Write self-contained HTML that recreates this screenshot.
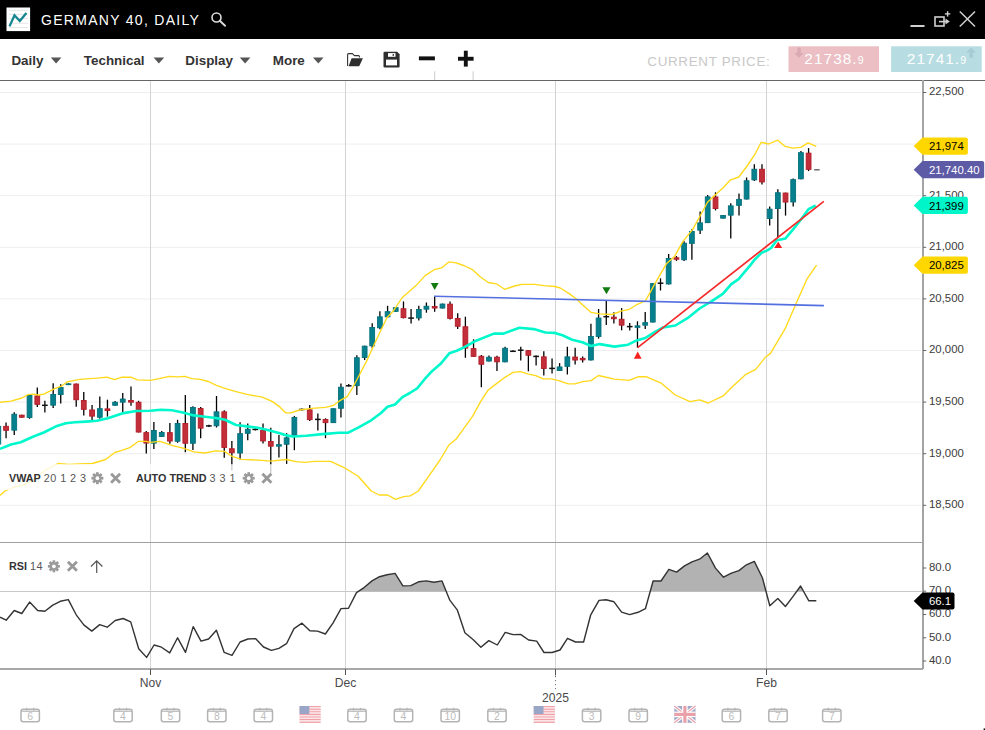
<!DOCTYPE html>
<html><head><meta charset="utf-8"><title>GERMANY 40, DAILY</title>
<style>
html,body{margin:0;padding:0;background:#fff;}
body{width:985px;height:730px;overflow:hidden;position:relative;font-family:"Liberation Sans",Arial,sans-serif;}
svg{position:absolute;left:0;top:0;display:block;}
.tb{position:absolute;top:0;left:0;width:985px;height:39px;background:#000;}
</style></head><body>
<svg width="985" height="730" viewBox="0 0 985 730">

<rect x="0" y="0" width="985" height="39" fill="#000"/>
<rect x="6.5" y="7.5" width="23.6" height="23.6" fill="#fff"/>
<line x1="8.9" y1="10.3" x2="27.8" y2="10.3" stroke="#e6e6e6" stroke-width="1"/>
<line x1="8.9" y1="14.5" x2="27.8" y2="14.5" stroke="#e6e6e6" stroke-width="1"/>
<line x1="8.9" y1="18.6" x2="27.8" y2="18.6" stroke="#e6e6e6" stroke-width="1"/>
<line x1="8.9" y1="23.3" x2="27.8" y2="23.3" stroke="#e6e6e6" stroke-width="1"/>
<line x1="8.9" y1="27.5" x2="27.8" y2="27.5" stroke="#e6e6e6" stroke-width="1"/>
<polyline points="9.5,26.4 14.5,15.3 19.8,21 26.4,13" fill="none" stroke="#168691" stroke-width="2.3" stroke-linejoin="miter"/>
<text x="41" y="25" fill="#fff" font-family="Liberation Sans, Arial, sans-serif" font-size="14" letter-spacing="1.29">GERMANY 40, DAILY</text>
<circle cx="216.5" cy="17.5" r="4.5" fill="none" stroke="#ddd" stroke-width="1.6"/>
<line x1="219.8" y1="20.8" x2="225.1" y2="25.7" stroke="#ddd" stroke-width="1.9" stroke-linecap="round"/>
<rect x="910.5" y="25" width="14" height="2" fill="#d0d0d0"/>
<rect x="935" y="17" width="9" height="9" fill="none" stroke="#d0d0d0" stroke-width="1.6"/>
<line x1="939" y1="21.6" x2="946" y2="21.6" stroke="#d0d0d0" stroke-width="1.6"/>
<polygon points="945.5,18.6 949.8,21.6 945.5,24.6" fill="#d0d0d0"/>
<line x1="947.6" y1="11.2" x2="947.6" y2="16.6" stroke="#d0d0d0" stroke-width="1.4"/>
<line x1="944.9" y1="13.9" x2="950.3" y2="13.9" stroke="#d0d0d0" stroke-width="1.4"/>
<line x1="959.8" y1="11.5" x2="975" y2="26.5" stroke="#d0d0d0" stroke-width="1.5"/>
<line x1="975" y1="11.5" x2="959.8" y2="26.5" stroke="#d0d0d0" stroke-width="1.5"/>
<text x="11.4" y="64.6" fill="#333" font-family="Liberation Sans, Arial, sans-serif" font-weight="bold" font-size="13.4">Daily</text>
<polygon points="50.8,57.6 61.4,57.6 56.099999999999994,63.4" fill="#555"/>
<text x="83.8" y="64.6" fill="#333" font-family="Liberation Sans, Arial, sans-serif" font-weight="bold" font-size="13.4">Technical</text>
<polygon points="153.6,57.6 164.2,57.6 158.9,63.4" fill="#555"/>
<text x="185.3" y="64.6" fill="#333" font-family="Liberation Sans, Arial, sans-serif" font-weight="bold" font-size="13.4">Display</text>
<polygon points="239.8,57.6 250.4,57.6 245.10000000000002,63.4" fill="#555"/>
<text x="272.8" y="64.6" fill="#333" font-family="Liberation Sans, Arial, sans-serif" font-weight="bold" font-size="13.4">More</text>
<polygon points="313.0,57.6 323.6,57.6 318.3,63.4" fill="#555"/>
<path d="M347.6,66 V54.6 Q347.6,53.6 348.6,53.6 H352.4 L354.4,55.6 H358.6 Q359.4,55.6 359.4,56.6 V57.6" fill="none" stroke="#333" stroke-width="1.1" stroke-linejoin="round"/>
<path d="M351.6,58.2 H362.9 L359.2,66.3 H348.6 Z" fill="#2e2e2e"/>
<path d="M384.6,51.8 H397.2 L399.6,54.2 V66.3 Q399.6,67.5 398.4,67.5 H384.7 Q383.5,67.5 383.5,66.3 V53 Q383.5,51.8 384.6,51.8 Z" fill="#2e2e2e"/>
<rect x="386" y="59.6" width="11" height="5.8" fill="#fff"/>
<rect x="388" y="53.1" width="7.5" height="3.7" fill="#fff"/>
<rect x="392.6" y="54" width="1.3" height="1.9" fill="#2e2e2e"/>
<rect x="418.9" y="56.4" width="16" height="3.9" fill="#111"/>
<rect x="458" y="56.8" width="15.6" height="3.9" fill="#111"/>
<rect x="463.85" y="50.7" width="3.9" height="15.9" fill="#111"/>
<line x1="434.7" y1="71.3" x2="434.7" y2="80" stroke="#ccc" stroke-width="1"/>
<line x1="473.1" y1="71.3" x2="473.1" y2="80" stroke="#ccc" stroke-width="1"/>
<text x="647.3" y="66" fill="#c8c8c8" font-family="Liberation Sans, Arial, sans-serif" font-size="13.4" letter-spacing="0.68">CURRENT PRICE:</text>
<rect x="788.5" y="46.3" width="90.5" height="25.7" fill="#ebbfc4"/>
<path d="M797.3,47.6 h3.4 v5.3 h3.1 l-4.8,4.8 l-4.8,-4.8 h3.1 z" fill="#dba9b1"/>
<text x="804.3" y="63.8" fill="#fff" font-family="Liberation Sans, Arial, sans-serif" font-size="15.4" letter-spacing="1.05">21738.<tspan font-size="10.6">9</tspan></text>
<rect x="891.1" y="46.3" width="90.6" height="25.7" fill="#b7dde2"/>
<path d="M969.4,57.7 h3.4 v-5.3 h3.1 l-4.8,-4.8 l-4.8,4.8 h3.1 z" fill="#a6ccd3"/>
<text x="906.8" y="63.8" fill="#fff" font-family="Liberation Sans, Arial, sans-serif" font-size="15.4" letter-spacing="1.05">21741.<tspan font-size="10.6">9</tspan></text>
<rect x="0" y="80" width="985" height="1" fill="#666"/>
<line x1="0" y1="505.3" x2="921" y2="505.3" stroke="#eeeeee" stroke-width="1"/>
<line x1="0" y1="453.7" x2="921" y2="453.7" stroke="#eeeeee" stroke-width="1"/>
<line x1="0" y1="402.1" x2="921" y2="402.1" stroke="#eeeeee" stroke-width="1"/>
<line x1="0" y1="350.5" x2="921" y2="350.5" stroke="#eeeeee" stroke-width="1"/>
<line x1="0" y1="298.9" x2="921" y2="298.9" stroke="#eeeeee" stroke-width="1"/>
<line x1="0" y1="247.3" x2="921" y2="247.3" stroke="#eeeeee" stroke-width="1"/>
<line x1="0" y1="195.7" x2="921" y2="195.7" stroke="#eeeeee" stroke-width="1"/>
<line x1="0" y1="144.1" x2="921" y2="144.1" stroke="#eeeeee" stroke-width="1"/>
<line x1="0" y1="92.5" x2="921" y2="92.5" stroke="#eeeeee" stroke-width="1"/>
<line x1="150.5" y1="81" x2="150.5" y2="668" stroke="#d3d3d3" stroke-width="1"/>
<line x1="345.5" y1="81" x2="345.5" y2="668" stroke="#d3d3d3" stroke-width="1"/>
<line x1="555.5" y1="81" x2="555.5" y2="668" stroke="#d3d3d3" stroke-width="1"/>
<line x1="766.5" y1="81" x2="766.5" y2="668" stroke="#d3d3d3" stroke-width="1"/>
<line x1="0" y1="591.5" x2="922" y2="591.5" stroke="#c8c8c8" stroke-width="1"/>
<polygon points="358.1,591.5 364.4,587.3 372.0,580.9 379.5,576.7 387.0,574.7 395.1,573.4 402.9,585.9 410.8,585.6 418.5,581.8 426.4,580.9 433.9,582.3 442.0,580.9 446.3,591.5" fill="#b2b2b2"/>
<polygon points="650.2,591.5 653.1,581.0 661.0,581.0 668.9,569.3 676.6,572.1 684.5,565.9 692.0,561.8 699.5,559.2 707.4,553.0 715.5,568.1 723.5,577.2 731.4,573.1 738.9,570.6 746.4,564.8 754.3,561.4 762.4,577.7 766.0,591.5" fill="#b2b2b2"/>
<polygon points="796.6,591.5 800.6,586.0 803.6,591.5" fill="#b2b2b2"/>
<polyline points="0.0,617.2 6.2,620.2 14.2,610.5 21.8,613.5 29.6,602.1 37.7,610.5 44.9,611.2 52.8,605.1 60.3,601.3 68.3,599.6 76.2,614.8 83.8,624.9 91.8,631.1 99.7,624.6 107.2,627.2 115.2,620.5 123.1,618.5 130.7,621.9 138.7,648.7 146.6,657.4 154.1,645.0 161.5,647.2 169.7,652.9 177.6,637.8 185.5,652.4 193.2,626.6 201.0,641.1 208.6,639.0 216.4,630.3 224.2,652.4 232.0,655.4 240.1,642.0 247.9,639.0 255.5,638.6 263.5,647.0 271.4,650.4 278.9,648.3 286.5,643.7 294.0,628.6 302.0,623.2 309.9,630.8 317.5,631.1 325.4,634.0 333.1,622.8 341.0,608.6 348.5,608.2 356.5,592.6 364.4,587.3 372.0,580.9 379.5,576.7 387.0,574.7 395.1,573.4 402.9,585.9 410.8,585.6 418.5,581.8 426.4,580.9 433.9,582.3 442.0,580.9 449.8,600.2 457.4,610.2 464.9,632.8 473.0,639.5 480.9,647.3 488.8,640.6 497.3,645.0 505.2,632.4 513.2,634.6 520.6,634.4 528.6,640.0 536.7,641.1 544.0,652.5 552.1,652.5 560.0,650.0 567.5,638.3 575.5,642.0 583.6,642.0 590.6,615.2 599.0,600.4 606.0,599.8 614.0,601.8 621.6,612.2 629.6,614.6 638.1,612.3 645.4,608.7 653.1,581.0 661.0,581.0 668.9,569.3 676.6,572.1 684.5,565.9 692.0,561.8 699.5,559.2 707.4,553.0 715.5,568.1 723.5,577.2 731.4,573.1 738.9,570.6 746.4,564.8 754.3,561.4 762.4,577.7 769.8,605.7 777.8,598.4 785.4,606.5 793.1,596.3 800.6,586.0 808.7,600.7 816.3,600.7" fill="none" stroke="#333" stroke-width="1.4" stroke-linejoin="round"/>
<line x1="-1.69" y1="424.5" x2="-1.69" y2="446.0" stroke="#000" stroke-width="1.3"/>
<rect x="-4.09" y="426.35" width="4.80" height="17.70" fill="#06808c" stroke="#04707c" stroke-width="0.9"/>
<line x1="6.05" y1="422.4" x2="6.05" y2="438.2" stroke="#000" stroke-width="1.3"/>
<rect x="3.65" y="426.35" width="4.80" height="4.00" fill="#c22e3a" stroke="#b31b27" stroke-width="0.9"/>
<line x1="14.25" y1="412.2" x2="14.25" y2="434.9" stroke="#000" stroke-width="1.3"/>
<rect x="11.85" y="414.25" width="4.80" height="15.90" fill="#06808c" stroke="#04707c" stroke-width="0.9"/>
<line x1="21.79" y1="414.7" x2="21.79" y2="417.7" stroke="#000" stroke-width="1.3"/>
<rect x="19.39" y="415.15" width="4.80" height="2.10" fill="#c22e3a" stroke="#b31b27" stroke-width="0.9"/>
<line x1="29.54" y1="394.7" x2="29.54" y2="418.8" stroke="#000" stroke-width="1.3"/>
<rect x="27.14" y="395.45" width="4.80" height="22.10" fill="#06808c" stroke="#04707c" stroke-width="0.9"/>
<line x1="37.29" y1="387.5" x2="37.29" y2="407.0" stroke="#000" stroke-width="1.3"/>
<rect x="34.89" y="395.95" width="4.80" height="8.40" fill="#c22e3a" stroke="#b31b27" stroke-width="0.9"/>
<line x1="44.88" y1="400.7" x2="44.88" y2="412.5" stroke="#000" stroke-width="1.3"/>
<rect x="42.03" y="404.55" width="5.7" height="1.5" fill="#111"/>
<line x1="53.18" y1="383.2" x2="53.18" y2="408.1" stroke="#000" stroke-width="1.3"/>
<rect x="50.78" y="394.55" width="4.80" height="10.60" fill="#06808c" stroke="#04707c" stroke-width="0.9"/>
<line x1="60.73" y1="384.2" x2="60.73" y2="403.4" stroke="#000" stroke-width="1.3"/>
<rect x="58.33" y="387.45" width="4.80" height="7.10" fill="#06808c" stroke="#04707c" stroke-width="0.9"/>
<line x1="68.47" y1="383.4" x2="68.47" y2="385.1" stroke="#000" stroke-width="1.3"/>
<rect x="66.07" y="383.85" width="4.80" height="0.80" fill="#06808c" stroke="#04707c" stroke-width="0.9"/>
<line x1="76.22" y1="383.6" x2="76.22" y2="406.8" stroke="#000" stroke-width="1.3"/>
<rect x="73.82" y="384.05" width="4.80" height="15.70" fill="#c22e3a" stroke="#b31b27" stroke-width="0.9"/>
<line x1="83.77" y1="392.0" x2="83.77" y2="415.5" stroke="#000" stroke-width="1.3"/>
<rect x="81.37" y="400.45" width="4.80" height="8.90" fill="#c22e3a" stroke="#b31b27" stroke-width="0.9"/>
<line x1="92.06" y1="405.1" x2="92.06" y2="419.9" stroke="#000" stroke-width="1.3"/>
<rect x="89.66" y="409.95" width="4.80" height="6.20" fill="#c22e3a" stroke="#b31b27" stroke-width="0.9"/>
<line x1="99.81" y1="396.4" x2="99.81" y2="418.8" stroke="#000" stroke-width="1.3"/>
<rect x="97.41" y="408.65" width="4.80" height="8.60" fill="#06808c" stroke="#04707c" stroke-width="0.9"/>
<line x1="107.45" y1="399.7" x2="107.45" y2="416.6" stroke="#000" stroke-width="1.3"/>
<rect x="105.05" y="408.85" width="4.80" height="1.70" fill="#c22e3a" stroke="#b31b27" stroke-width="0.9"/>
<line x1="115.10" y1="401.0" x2="115.10" y2="405.7" stroke="#000" stroke-width="1.3"/>
<rect x="112.70" y="402.25" width="4.80" height="3.00" fill="#06808c" stroke="#04707c" stroke-width="0.9"/>
<line x1="122.75" y1="393.1" x2="122.75" y2="412.8" stroke="#000" stroke-width="1.3"/>
<rect x="120.35" y="399.05" width="4.80" height="3.10" fill="#06808c" stroke="#04707c" stroke-width="0.9"/>
<line x1="130.99" y1="386.5" x2="130.99" y2="405.7" stroke="#000" stroke-width="1.3"/>
<rect x="128.59" y="400.45" width="4.80" height="1.70" fill="#c22e3a" stroke="#b31b27" stroke-width="0.9"/>
<line x1="138.59" y1="400.8" x2="138.59" y2="432.5" stroke="#000" stroke-width="1.3"/>
<rect x="136.19" y="402.25" width="4.80" height="29.80" fill="#c22e3a" stroke="#b31b27" stroke-width="0.9"/>
<line x1="146.29" y1="430.9" x2="146.29" y2="453.4" stroke="#000" stroke-width="1.3"/>
<rect x="143.89" y="432.65" width="4.80" height="10.40" fill="#c22e3a" stroke="#b31b27" stroke-width="0.9"/>
<line x1="153.88" y1="422.0" x2="153.88" y2="449.0" stroke="#000" stroke-width="1.3"/>
<rect x="151.48" y="430.45" width="4.80" height="12.70" fill="#06808c" stroke="#04707c" stroke-width="0.9"/>
<line x1="161.73" y1="431.1" x2="161.73" y2="436.9" stroke="#000" stroke-width="1.3"/>
<rect x="159.33" y="432.45" width="4.80" height="4.00" fill="#06808c" stroke="#04707c" stroke-width="0.9"/>
<line x1="169.88" y1="422.9" x2="169.88" y2="443.7" stroke="#000" stroke-width="1.3"/>
<rect x="167.48" y="432.65" width="4.80" height="8.40" fill="#c22e3a" stroke="#b31b27" stroke-width="0.9"/>
<line x1="177.57" y1="419.8" x2="177.57" y2="442.8" stroke="#000" stroke-width="1.3"/>
<rect x="175.17" y="423.55" width="4.80" height="17.70" fill="#06808c" stroke="#04707c" stroke-width="0.9"/>
<line x1="185.32" y1="394.9" x2="185.32" y2="452.2" stroke="#000" stroke-width="1.3"/>
<rect x="182.92" y="423.55" width="4.80" height="19.70" fill="#c22e3a" stroke="#b31b27" stroke-width="0.9"/>
<line x1="192.92" y1="406.2" x2="192.92" y2="450.0" stroke="#000" stroke-width="1.3"/>
<rect x="190.52" y="407.45" width="4.80" height="35.80" fill="#06808c" stroke="#04707c" stroke-width="0.9"/>
<line x1="200.66" y1="407.0" x2="200.66" y2="438.2" stroke="#000" stroke-width="1.3"/>
<rect x="198.26" y="408.55" width="4.80" height="19.60" fill="#c22e3a" stroke="#b31b27" stroke-width="0.9"/>
<line x1="208.86" y1="424.8" x2="208.86" y2="427.0" stroke="#000" stroke-width="1.3"/>
<rect x="206.01" y="425.15" width="5.7" height="1.5" fill="#111"/>
<line x1="216.51" y1="396.0" x2="216.51" y2="427.5" stroke="#000" stroke-width="1.3"/>
<rect x="214.11" y="411.85" width="4.80" height="13.90" fill="#06808c" stroke="#04707c" stroke-width="0.9"/>
<line x1="224.25" y1="410.3" x2="224.25" y2="457.7" stroke="#000" stroke-width="1.3"/>
<rect x="221.85" y="411.85" width="4.80" height="35.60" fill="#c22e3a" stroke="#b31b27" stroke-width="0.9"/>
<line x1="231.85" y1="440.9" x2="231.85" y2="470.5" stroke="#000" stroke-width="1.3"/>
<rect x="229.45" y="448.75" width="4.80" height="4.00" fill="#c22e3a" stroke="#b31b27" stroke-width="0.9"/>
<line x1="240.09" y1="422.3" x2="240.09" y2="459.5" stroke="#000" stroke-width="1.3"/>
<rect x="237.69" y="433.65" width="4.80" height="19.40" fill="#06808c" stroke="#04707c" stroke-width="0.9"/>
<line x1="247.74" y1="423.4" x2="247.74" y2="440.3" stroke="#000" stroke-width="1.3"/>
<rect x="245.34" y="429.25" width="4.80" height="4.10" fill="#06808c" stroke="#04707c" stroke-width="0.9"/>
<line x1="255.29" y1="428.3" x2="255.29" y2="430.5" stroke="#000" stroke-width="1.3"/>
<rect x="252.44" y="428.65" width="5.7" height="1.5" fill="#111"/>
<line x1="263.03" y1="423.4" x2="263.03" y2="443.6" stroke="#000" stroke-width="1.3"/>
<rect x="260.63" y="430.35" width="4.80" height="10.60" fill="#c22e3a" stroke="#b31b27" stroke-width="0.9"/>
<line x1="270.78" y1="427.7" x2="270.78" y2="473.3" stroke="#000" stroke-width="1.3"/>
<rect x="268.38" y="441.55" width="4.80" height="4.60" fill="#c22e3a" stroke="#b31b27" stroke-width="0.9"/>
<line x1="278.93" y1="434.9" x2="278.93" y2="457.5" stroke="#000" stroke-width="1.3"/>
<rect x="276.53" y="444.65" width="4.80" height="1.50" fill="#06808c" stroke="#04707c" stroke-width="0.9"/>
<line x1="286.62" y1="433.2" x2="286.62" y2="463.9" stroke="#000" stroke-width="1.3"/>
<rect x="284.22" y="437.85" width="4.80" height="6.40" fill="#06808c" stroke="#04707c" stroke-width="0.9"/>
<line x1="294.37" y1="415.9" x2="294.37" y2="450.2" stroke="#000" stroke-width="1.3"/>
<rect x="291.97" y="417.45" width="4.80" height="17.70" fill="#06808c" stroke="#04707c" stroke-width="0.9"/>
<line x1="301.72" y1="408.5" x2="301.72" y2="410.5" stroke="#000" stroke-width="1.3"/>
<rect x="298.87" y="408.75" width="5.7" height="1.5" fill="#111"/>
<line x1="309.71" y1="405.0" x2="309.71" y2="421.0" stroke="#000" stroke-width="1.3"/>
<rect x="307.31" y="409.85" width="4.80" height="9.80" fill="#c22e3a" stroke="#b31b27" stroke-width="0.9"/>
<line x1="317.86" y1="413.5" x2="317.86" y2="430.6" stroke="#000" stroke-width="1.3"/>
<rect x="315.01" y="418.65" width="5.7" height="1.5" fill="#111"/>
<line x1="325.51" y1="418.3" x2="325.51" y2="438.2" stroke="#000" stroke-width="1.3"/>
<rect x="323.11" y="419.45" width="4.80" height="3.20" fill="#c22e3a" stroke="#b31b27" stroke-width="0.9"/>
<line x1="333.35" y1="408.3" x2="333.35" y2="423.1" stroke="#000" stroke-width="1.3"/>
<rect x="330.95" y="408.75" width="4.80" height="13.90" fill="#06808c" stroke="#04707c" stroke-width="0.9"/>
<line x1="340.95" y1="383.4" x2="340.95" y2="417.6" stroke="#000" stroke-width="1.3"/>
<rect x="338.55" y="387.25" width="4.80" height="21.00" fill="#06808c" stroke="#04707c" stroke-width="0.9"/>
<line x1="348.70" y1="384.0" x2="348.70" y2="386.5" stroke="#000" stroke-width="1.3"/>
<rect x="345.85" y="385.05" width="5.7" height="1.5" fill="#111"/>
<line x1="356.84" y1="355.3" x2="356.84" y2="395.0" stroke="#000" stroke-width="1.3"/>
<rect x="354.44" y="357.75" width="4.80" height="27.90" fill="#06808c" stroke="#04707c" stroke-width="0.9"/>
<line x1="364.64" y1="345.7" x2="364.64" y2="360.0" stroke="#000" stroke-width="1.3"/>
<rect x="362.24" y="346.15" width="4.80" height="11.40" fill="#06808c" stroke="#04707c" stroke-width="0.9"/>
<line x1="372.21" y1="323.3" x2="372.21" y2="348.0" stroke="#000" stroke-width="1.3"/>
<rect x="369.81" y="327.55" width="4.80" height="18.30" fill="#06808c" stroke="#04707c" stroke-width="0.9"/>
<line x1="379.88" y1="311.2" x2="379.88" y2="329.3" stroke="#000" stroke-width="1.3"/>
<rect x="377.48" y="316.85" width="4.80" height="10.90" fill="#06808c" stroke="#04707c" stroke-width="0.9"/>
<line x1="387.58" y1="305.8" x2="387.58" y2="317.8" stroke="#000" stroke-width="1.3"/>
<rect x="385.18" y="311.65" width="4.80" height="5.20" fill="#06808c" stroke="#04707c" stroke-width="0.9"/>
<line x1="395.73" y1="307.2" x2="395.73" y2="311.8" stroke="#000" stroke-width="1.3"/>
<rect x="393.32" y="307.65" width="4.80" height="3.70" fill="#06808c" stroke="#04707c" stroke-width="0.9"/>
<line x1="403.47" y1="301.4" x2="403.47" y2="318.4" stroke="#000" stroke-width="1.3"/>
<rect x="401.07" y="308.75" width="4.80" height="8.90" fill="#c22e3a" stroke="#b31b27" stroke-width="0.9"/>
<line x1="411.07" y1="309.0" x2="411.07" y2="323.6" stroke="#000" stroke-width="1.3"/>
<rect x="408.22" y="317.35" width="5.7" height="1.5" fill="#111"/>
<line x1="418.81" y1="305.8" x2="418.81" y2="320.5" stroke="#000" stroke-width="1.3"/>
<rect x="416.41" y="309.45" width="4.80" height="8.50" fill="#06808c" stroke="#04707c" stroke-width="0.9"/>
<line x1="426.41" y1="302.5" x2="426.41" y2="312.7" stroke="#000" stroke-width="1.3"/>
<rect x="424.01" y="306.25" width="4.80" height="2.90" fill="#06808c" stroke="#04707c" stroke-width="0.9"/>
<line x1="434.66" y1="296.4" x2="434.66" y2="311.8" stroke="#000" stroke-width="1.3"/>
<rect x="432.26" y="306.55" width="4.80" height="1.50" fill="#c22e3a" stroke="#b31b27" stroke-width="0.9"/>
<line x1="442.45" y1="303.6" x2="442.45" y2="308.5" stroke="#000" stroke-width="1.3"/>
<rect x="440.05" y="304.05" width="4.80" height="4.00" fill="#06808c" stroke="#04707c" stroke-width="0.9"/>
<line x1="450.05" y1="301.6" x2="450.05" y2="319.5" stroke="#000" stroke-width="1.3"/>
<rect x="447.65" y="304.15" width="4.80" height="14.20" fill="#c22e3a" stroke="#b31b27" stroke-width="0.9"/>
<line x1="457.70" y1="313.3" x2="457.70" y2="329.0" stroke="#000" stroke-width="1.3"/>
<rect x="455.30" y="318.55" width="4.80" height="7.70" fill="#c22e3a" stroke="#b31b27" stroke-width="0.9"/>
<line x1="465.39" y1="316.7" x2="465.39" y2="357.8" stroke="#000" stroke-width="1.3"/>
<rect x="462.99" y="326.75" width="4.80" height="21.40" fill="#c22e3a" stroke="#b31b27" stroke-width="0.9"/>
<line x1="473.54" y1="339.3" x2="473.54" y2="357.0" stroke="#000" stroke-width="1.3"/>
<rect x="471.14" y="348.65" width="4.80" height="7.70" fill="#c22e3a" stroke="#b31b27" stroke-width="0.9"/>
<line x1="481.34" y1="355.0" x2="481.34" y2="387.3" stroke="#000" stroke-width="1.3"/>
<rect x="478.94" y="356.25" width="4.80" height="8.00" fill="#c22e3a" stroke="#b31b27" stroke-width="0.9"/>
<line x1="488.98" y1="355.5" x2="488.98" y2="361.5" stroke="#000" stroke-width="1.3"/>
<rect x="486.58" y="357.25" width="4.80" height="3.80" fill="#06808c" stroke="#04707c" stroke-width="0.9"/>
<line x1="496.98" y1="355.8" x2="496.98" y2="371.1" stroke="#000" stroke-width="1.3"/>
<rect x="494.58" y="357.15" width="4.80" height="4.70" fill="#c22e3a" stroke="#b31b27" stroke-width="0.9"/>
<line x1="505.03" y1="346.8" x2="505.03" y2="362.3" stroke="#000" stroke-width="1.3"/>
<rect x="502.63" y="348.25" width="4.80" height="13.60" fill="#06808c" stroke="#04707c" stroke-width="0.9"/>
<line x1="512.95" y1="350.2" x2="512.95" y2="351.8" stroke="#000" stroke-width="1.3"/>
<rect x="510.10" y="350.55" width="5.7" height="1.5" fill="#111"/>
<line x1="520.77" y1="346.8" x2="520.77" y2="360.5" stroke="#000" stroke-width="1.3"/>
<rect x="517.92" y="349.45" width="5.7" height="1.5" fill="#111"/>
<line x1="528.37" y1="350.2" x2="528.37" y2="371.3" stroke="#000" stroke-width="1.3"/>
<rect x="525.97" y="350.65" width="4.80" height="4.60" fill="#c22e3a" stroke="#b31b27" stroke-width="0.9"/>
<line x1="536.11" y1="355.5" x2="536.11" y2="365.5" stroke="#000" stroke-width="1.3"/>
<rect x="533.26" y="355.65" width="5.7" height="1.5" fill="#111"/>
<line x1="543.81" y1="351.2" x2="543.81" y2="375.4" stroke="#000" stroke-width="1.3"/>
<rect x="541.41" y="356.85" width="4.80" height="11.60" fill="#c22e3a" stroke="#b31b27" stroke-width="0.9"/>
<line x1="552.06" y1="358.4" x2="552.06" y2="373.5" stroke="#000" stroke-width="1.3"/>
<rect x="549.21" y="367.65" width="5.7" height="1.5" fill="#111"/>
<line x1="559.60" y1="363.1" x2="559.60" y2="371.0" stroke="#000" stroke-width="1.3"/>
<rect x="557.20" y="366.95" width="4.80" height="3.60" fill="#06808c" stroke="#04707c" stroke-width="0.9"/>
<line x1="567.35" y1="346.8" x2="567.35" y2="374.6" stroke="#000" stroke-width="1.3"/>
<rect x="564.95" y="356.85" width="4.80" height="9.50" fill="#06808c" stroke="#04707c" stroke-width="0.9"/>
<line x1="575.14" y1="347.8" x2="575.14" y2="364.6" stroke="#000" stroke-width="1.3"/>
<rect x="572.74" y="357.05" width="4.80" height="3.00" fill="#c22e3a" stroke="#b31b27" stroke-width="0.9"/>
<line x1="582.67" y1="356.4" x2="582.67" y2="362.4" stroke="#000" stroke-width="1.3"/>
<rect x="580.27" y="358.35" width="4.80" height="1.50" fill="#c22e3a" stroke="#b31b27" stroke-width="0.9"/>
<line x1="590.94" y1="323.8" x2="590.94" y2="360.4" stroke="#000" stroke-width="1.3"/>
<rect x="588.54" y="336.55" width="4.80" height="23.40" fill="#06808c" stroke="#04707c" stroke-width="0.9"/>
<line x1="598.58" y1="309.0" x2="598.58" y2="338.6" stroke="#000" stroke-width="1.3"/>
<rect x="596.18" y="318.05" width="4.80" height="18.50" fill="#06808c" stroke="#04707c" stroke-width="0.9"/>
<line x1="606.28" y1="301.0" x2="606.28" y2="325.0" stroke="#000" stroke-width="1.3"/>
<rect x="603.43" y="315.95" width="5.7" height="1.5" fill="#111"/>
<line x1="613.88" y1="312.3" x2="613.88" y2="323.4" stroke="#000" stroke-width="1.3"/>
<rect x="611.48" y="317.15" width="4.80" height="1.60" fill="#c22e3a" stroke="#b31b27" stroke-width="0.9"/>
<line x1="621.62" y1="308.1" x2="621.62" y2="330.3" stroke="#000" stroke-width="1.3"/>
<rect x="619.22" y="319.25" width="4.80" height="5.90" fill="#c22e3a" stroke="#b31b27" stroke-width="0.9"/>
<line x1="629.72" y1="322.9" x2="629.72" y2="330.6" stroke="#000" stroke-width="1.3"/>
<rect x="626.87" y="325.85" width="5.7" height="1.5" fill="#111"/>
<line x1="637.47" y1="321.3" x2="637.47" y2="347.6" stroke="#000" stroke-width="1.3"/>
<rect x="635.07" y="325.85" width="4.80" height="1.50" fill="#06808c" stroke="#04707c" stroke-width="0.9"/>
<line x1="645.21" y1="312.1" x2="645.21" y2="329.1" stroke="#000" stroke-width="1.3"/>
<rect x="642.81" y="322.65" width="4.80" height="2.50" fill="#06808c" stroke="#04707c" stroke-width="0.9"/>
<line x1="652.78" y1="283.2" x2="652.78" y2="322.5" stroke="#000" stroke-width="1.3"/>
<rect x="650.38" y="283.65" width="4.80" height="38.40" fill="#06808c" stroke="#04707c" stroke-width="0.9"/>
<line x1="660.51" y1="278.3" x2="660.51" y2="290.5" stroke="#000" stroke-width="1.3"/>
<rect x="657.66" y="282.45" width="5.7" height="1.5" fill="#111"/>
<line x1="668.65" y1="254.0" x2="668.65" y2="284.4" stroke="#000" stroke-width="1.3"/>
<rect x="666.25" y="258.55" width="4.80" height="25.40" fill="#06808c" stroke="#04707c" stroke-width="0.9"/>
<line x1="676.45" y1="256.0" x2="676.45" y2="260.9" stroke="#000" stroke-width="1.3"/>
<rect x="674.05" y="257.75" width="4.80" height="1.50" fill="#c22e3a" stroke="#b31b27" stroke-width="0.9"/>
<line x1="684.10" y1="241.2" x2="684.10" y2="260.9" stroke="#000" stroke-width="1.3"/>
<rect x="681.70" y="243.25" width="4.80" height="16.50" fill="#06808c" stroke="#04707c" stroke-width="0.9"/>
<line x1="691.89" y1="229.3" x2="691.89" y2="259.7" stroke="#000" stroke-width="1.3"/>
<rect x="689.49" y="231.45" width="4.80" height="11.90" fill="#06808c" stroke="#04707c" stroke-width="0.9"/>
<line x1="700.14" y1="211.6" x2="700.14" y2="233.9" stroke="#000" stroke-width="1.3"/>
<rect x="697.74" y="222.85" width="4.80" height="7.30" fill="#06808c" stroke="#04707c" stroke-width="0.9"/>
<line x1="707.68" y1="195.1" x2="707.68" y2="223.1" stroke="#000" stroke-width="1.3"/>
<rect x="705.28" y="196.85" width="4.80" height="25.80" fill="#06808c" stroke="#04707c" stroke-width="0.9"/>
<line x1="715.51" y1="192.3" x2="715.51" y2="210.4" stroke="#000" stroke-width="1.3"/>
<rect x="713.11" y="196.95" width="4.80" height="11.60" fill="#c22e3a" stroke="#b31b27" stroke-width="0.9"/>
<line x1="723.03" y1="215.0" x2="723.03" y2="218.6" stroke="#000" stroke-width="1.3"/>
<rect x="720.63" y="215.45" width="4.80" height="2.70" fill="#06808c" stroke="#04707c" stroke-width="0.9"/>
<line x1="730.77" y1="203.3" x2="730.77" y2="238.6" stroke="#000" stroke-width="1.3"/>
<rect x="728.37" y="205.85" width="4.80" height="9.30" fill="#06808c" stroke="#04707c" stroke-width="0.9"/>
<line x1="739.00" y1="193.4" x2="739.00" y2="215.6" stroke="#000" stroke-width="1.3"/>
<rect x="736.60" y="199.35" width="4.80" height="6.00" fill="#06808c" stroke="#04707c" stroke-width="0.9"/>
<line x1="746.59" y1="177.5" x2="746.59" y2="199.5" stroke="#000" stroke-width="1.3"/>
<rect x="744.19" y="180.75" width="4.80" height="18.30" fill="#06808c" stroke="#04707c" stroke-width="0.9"/>
<line x1="754.31" y1="164.3" x2="754.31" y2="181.1" stroke="#000" stroke-width="1.3"/>
<rect x="751.91" y="169.25" width="4.80" height="10.60" fill="#06808c" stroke="#04707c" stroke-width="0.9"/>
<line x1="761.99" y1="164.3" x2="761.99" y2="184.4" stroke="#000" stroke-width="1.3"/>
<rect x="759.59" y="169.25" width="4.80" height="12.70" fill="#c22e3a" stroke="#b31b27" stroke-width="0.9"/>
<line x1="769.68" y1="206.6" x2="769.68" y2="225.5" stroke="#000" stroke-width="1.3"/>
<rect x="767.28" y="209.15" width="4.80" height="9.30" fill="#06808c" stroke="#04707c" stroke-width="0.9"/>
<line x1="777.83" y1="189.3" x2="777.83" y2="237.0" stroke="#000" stroke-width="1.3"/>
<rect x="775.43" y="192.75" width="4.80" height="15.80" fill="#06808c" stroke="#04707c" stroke-width="0.9"/>
<line x1="785.53" y1="192.6" x2="785.53" y2="215.6" stroke="#000" stroke-width="1.3"/>
<rect x="783.13" y="193.05" width="4.80" height="9.00" fill="#c22e3a" stroke="#b31b27" stroke-width="0.9"/>
<line x1="793.20" y1="178.5" x2="793.20" y2="206.5" stroke="#000" stroke-width="1.3"/>
<rect x="790.80" y="179.65" width="4.80" height="22.30" fill="#06808c" stroke="#04707c" stroke-width="0.9"/>
<line x1="800.94" y1="151.0" x2="800.94" y2="179.3" stroke="#000" stroke-width="1.3"/>
<rect x="798.54" y="152.65" width="4.80" height="26.20" fill="#06808c" stroke="#04707c" stroke-width="0.9"/>
<line x1="808.59" y1="148.1" x2="808.59" y2="171.1" stroke="#000" stroke-width="1.3"/>
<rect x="806.19" y="153.15" width="4.80" height="16.20" fill="#c22e3a" stroke="#b31b27" stroke-width="0.9"/>
<polyline points="0.0,402.3 11.0,401.2 21.9,398.0 28.0,394.7 32.9,394.1 38.4,395.0 43.8,394.1 49.3,391.4 54.8,388.6 61.4,386.2 66.8,382.0 74.5,380.4 80.0,379.3 86.0,378.8 96.9,378.1 106.8,377.2 114.5,379.6 122.1,377.2 130.9,377.2 137.5,379.9 150.6,380.3 159.1,378.7 169.2,376.3 177.4,376.9 184.7,376.3 192.0,378.7 200.3,379.4 208.5,381.5 215.8,385.1 225.0,388.3 236.0,391.6 246.9,394.3 262.3,397.1 272.1,401.4 279.8,406.9 285.8,412.9 290.8,412.9 299.5,410.0 311.7,408.3 325.4,407.3 333.6,405.3 339.1,401.2 347.3,396.4 352.8,387.5 359.6,374.5 366.5,361.4 373.5,346.0 381.4,329.3 386.9,317.8 393.5,310.7 402.3,297.5 416.0,285.6 425.1,275.6 434.2,269.7 441.5,267.9 448.9,261.9 456.2,262.8 463.5,265.5 472.6,269.7 479.9,276.5 488.2,282.5 496.4,283.8 504.6,289.3 514.6,286.0 522.0,284.4 534.8,284.4 543.9,285.6 554.9,286.5 560.3,288.0 569.5,293.9 576.8,299.3 582.4,304.7 591.0,312.3 599.7,313.9 612.0,314.5 621.9,310.8 629.3,309.3 636.7,304.7 645.3,301.0 650.2,292.3 654.9,283.6 666.4,263.8 674.6,256.4 682.8,241.6 692.7,229.3 700.9,214.5 707.5,202.2 715.7,194.5 723.2,187.7 730.6,179.8 738.8,177.0 746.4,167.0 754.7,154.7 761.2,142.3 768.7,144.0 777.7,140.2 785.1,146.4 792.5,148.1 800.7,147.3 808.1,142.8 816.3,146.4" fill="none" stroke="#ffd91a" stroke-width="1.35" stroke-linejoin="round"/>
<polyline points="0.0,495.4 5.3,490.8 13.2,487.5 23.8,484.9 34.3,479.6 44.9,470.4 58.1,463.5 68.6,464.4 79.2,463.8 92.4,463.5 105.6,459.5 114.8,452.5 121.0,450.6 129.8,447.6 138.6,441.3 146.2,441.3 150.0,442.3 159.9,441.3 171.9,445.3 182.9,448.1 193.8,451.9 204.8,453.0 215.8,450.8 224.5,451.4 231.6,456.2 241.4,459.3 257.9,460.1 271.0,461.2 286.4,459.5 296.2,461.7 305.0,462.3 314.4,461.4 330.6,461.4 345.2,468.2 358.2,476.3 371.2,491.0 379.3,495.0 387.5,495.0 395.6,499.4 403.7,496.7 410.2,495.8 418.3,491.0 428.1,477.2 440.0,460.0 448.9,445.0 456.2,439.0 464.4,427.7 472.5,416.3 480.6,401.7 487.9,390.3 495.2,384.6 505.0,377.3 513.1,372.4 520.4,371.6 528.5,374.1 535.8,375.7 543.2,378.9 551.3,378.9 558.6,380.6 568.3,383.8 574.8,383.8 583.0,381.7 591.1,380.6 598.5,375.5 614.4,379.1 629.0,380.4 638.7,376.7 646.0,376.7 660.7,382.8 675.3,395.0 689.9,401.6 699.6,399.9 708.2,403.0 722.8,396.2 731.3,387.7 745.9,374.3 755.7,369.4 765.4,357.2 770.3,353.6 784.9,329.2 797.1,301.2 806.9,279.2 816.6,265.1" fill="none" stroke="#ffd91a" stroke-width="1.35" stroke-linejoin="round"/>
<polyline points="0.0,448.9 11.0,444.5 20.8,442.3 32.9,436.8 43.8,432.5 57.0,425.9 65.8,423.2 75.0,422.3 86.0,421.6 96.9,420.8 107.9,418.3 122.1,413.4 136.4,411.0 150.0,410.8 161.0,409.7 171.9,410.3 182.9,412.5 193.8,415.4 204.8,416.8 215.8,418.0 225.0,419.8 236.0,425.0 246.9,426.4 257.9,427.7 268.8,430.2 279.8,433.2 286.4,435.4 293.0,436.5 306.2,435.7 322.5,434.1 338.7,432.8 347.7,432.8 358.2,427.6 371.2,420.3 381.0,413.0 387.5,406.8 395.0,404.5 402.4,397.1 409.8,393.0 417.2,388.4 424.6,379.2 432.0,371.2 440.6,363.8 449.3,353.3 456.7,350.8 464.0,347.4 476.1,340.7 493.9,333.6 503.5,333.6 519.4,327.7 533.8,329.1 545.3,332.5 554.9,332.9 562.5,335.3 572.1,339.7 582.4,342.3 591.0,346.0 599.7,344.1 614.5,346.6 628.0,344.7 636.7,340.4 645.3,338.0 655.0,331.8 663.1,327.5 675.3,325.5 687.5,318.2 699.6,308.5 711.8,301.2 722.8,293.9 731.3,284.1 738.6,279.2 750.8,264.6 754.3,260.0 761.5,252.8 767.3,250.4 771.1,248.0 776.8,240.3 780.7,239.4 785.5,238.4 793.1,229.3 800.8,219.7 808.5,209.2 815.7,205.5" fill="none" stroke="#00f8cc" stroke-width="2.6" stroke-linejoin="round"/>
<line x1="434" y1="296.2" x2="823.9" y2="305.6" stroke="#5470e0" stroke-width="1.6"/>
<line x1="637.6" y1="347.6" x2="823.8" y2="201.3" stroke="#f42a2a" stroke-width="1.7"/>
<line x1="814.2" y1="169.8" x2="819.6" y2="169.8" stroke="#555" stroke-width="1.3"/>
<polygon points="430.8,283.1 438.6,283.1 434.7,289.9" fill="#117a11"/>
<polygon points="602.4,287.2 610.5,287.2 606.45,294.3" fill="#117a11"/>
<polygon points="637.7,351.5 641.6,358.7 633.9,358.7" fill="#f42020"/>
<polygon points="778.2,241.8 782.2,248.1 774.2,248.1" fill="#f42020"/>
<rect x="0" y="542" width="922" height="1" fill="#a0a0a0"/>
<rect x="0" y="668" width="923" height="2" fill="#a8a8a8"/>
<rect x="922" y="80" width="2" height="589" fill="#a4a4a4"/>
<rect x="5" y="464.2" width="122" height="26" fill="#fff" fill-opacity="0.8"/>
<rect x="132" y="464.2" width="145" height="26" fill="#fff" fill-opacity="0.8"/>
<text x="9" y="481.6" fill="#333" font-family="Liberation Sans, Arial, sans-serif" font-size="10.8"><tspan font-weight="bold">VWAP</tspan> <tspan fill="#555" letter-spacing="0.45">20 1 2 3</tspan></text>
<rect x="96.05" y="472.20" width="2.7" height="3" fill="#9a9a9a" transform="rotate(0 97.4 478.2)"/><rect x="96.05" y="472.20" width="2.7" height="3" fill="#9a9a9a" transform="rotate(45 97.4 478.2)"/><rect x="96.05" y="472.20" width="2.7" height="3" fill="#9a9a9a" transform="rotate(90 97.4 478.2)"/><rect x="96.05" y="472.20" width="2.7" height="3" fill="#9a9a9a" transform="rotate(135 97.4 478.2)"/><rect x="96.05" y="472.20" width="2.7" height="3" fill="#9a9a9a" transform="rotate(180 97.4 478.2)"/><rect x="96.05" y="472.20" width="2.7" height="3" fill="#9a9a9a" transform="rotate(225 97.4 478.2)"/><rect x="96.05" y="472.20" width="2.7" height="3" fill="#9a9a9a" transform="rotate(270 97.4 478.2)"/><rect x="96.05" y="472.20" width="2.7" height="3" fill="#9a9a9a" transform="rotate(315 97.4 478.2)"/><circle cx="97.4" cy="478.2" r="4.25" fill="#9a9a9a"/><circle cx="97.4" cy="478.2" r="1.85" fill="#fff"/>
<path d="M111.1,473.7 L120.1,482.7 M120.1,473.7 L111.1,482.7" stroke="#999" stroke-width="2.8" fill="none"/>
<text x="136" y="481.6" fill="#333" font-family="Liberation Sans, Arial, sans-serif" font-size="10.8"><tspan font-weight="bold">AUTO TREND</tspan> <tspan fill="#555" letter-spacing="0.45">3 3 1</tspan></text>
<rect x="247.35" y="472.20" width="2.7" height="3" fill="#9a9a9a" transform="rotate(0 248.7 478.2)"/><rect x="247.35" y="472.20" width="2.7" height="3" fill="#9a9a9a" transform="rotate(45 248.7 478.2)"/><rect x="247.35" y="472.20" width="2.7" height="3" fill="#9a9a9a" transform="rotate(90 248.7 478.2)"/><rect x="247.35" y="472.20" width="2.7" height="3" fill="#9a9a9a" transform="rotate(135 248.7 478.2)"/><rect x="247.35" y="472.20" width="2.7" height="3" fill="#9a9a9a" transform="rotate(180 248.7 478.2)"/><rect x="247.35" y="472.20" width="2.7" height="3" fill="#9a9a9a" transform="rotate(225 248.7 478.2)"/><rect x="247.35" y="472.20" width="2.7" height="3" fill="#9a9a9a" transform="rotate(270 248.7 478.2)"/><rect x="247.35" y="472.20" width="2.7" height="3" fill="#9a9a9a" transform="rotate(315 248.7 478.2)"/><circle cx="248.7" cy="478.2" r="4.25" fill="#9a9a9a"/><circle cx="248.7" cy="478.2" r="1.85" fill="#fff"/>
<path d="M262.4,473.7 L271.4,482.7 M271.4,473.7 L262.4,482.7" stroke="#999" stroke-width="2.8" fill="none"/>
<text x="9" y="570.1" fill="#333" font-family="Liberation Sans, Arial, sans-serif" font-size="10.8"><tspan font-weight="bold">RSI</tspan> <tspan fill="#555" letter-spacing="0.45">14</tspan></text>
<rect x="52.55" y="560.30" width="2.7" height="3" fill="#9a9a9a" transform="rotate(0 53.9 566.3)"/><rect x="52.55" y="560.30" width="2.7" height="3" fill="#9a9a9a" transform="rotate(45 53.9 566.3)"/><rect x="52.55" y="560.30" width="2.7" height="3" fill="#9a9a9a" transform="rotate(90 53.9 566.3)"/><rect x="52.55" y="560.30" width="2.7" height="3" fill="#9a9a9a" transform="rotate(135 53.9 566.3)"/><rect x="52.55" y="560.30" width="2.7" height="3" fill="#9a9a9a" transform="rotate(180 53.9 566.3)"/><rect x="52.55" y="560.30" width="2.7" height="3" fill="#9a9a9a" transform="rotate(225 53.9 566.3)"/><rect x="52.55" y="560.30" width="2.7" height="3" fill="#9a9a9a" transform="rotate(270 53.9 566.3)"/><rect x="52.55" y="560.30" width="2.7" height="3" fill="#9a9a9a" transform="rotate(315 53.9 566.3)"/><circle cx="53.9" cy="566.3" r="4.25" fill="#9a9a9a"/><circle cx="53.9" cy="566.3" r="1.85" fill="#fff"/>
<path d="M67.9,561.8 L76.9,570.8 M76.9,561.8 L67.9,570.8" stroke="#999" stroke-width="2.8" fill="none"/>
<path d="M96.7,573 V561 M91,566.5 L96.7,560.8 L102.4,566.5" stroke="#555" stroke-width="1.2" fill="none"/>
<line x1="923" y1="505.3" x2="926.2" y2="505.3" stroke="#666" stroke-width="1"/>
<text x="929" y="508.2" fill="#3c3c3c" font-family="Liberation Sans, Arial, sans-serif" font-size="11.4">18,500</text>
<line x1="923" y1="453.7" x2="926.2" y2="453.7" stroke="#666" stroke-width="1"/>
<text x="929" y="456.6" fill="#3c3c3c" font-family="Liberation Sans, Arial, sans-serif" font-size="11.4">19,000</text>
<line x1="923" y1="402.1" x2="926.2" y2="402.1" stroke="#666" stroke-width="1"/>
<text x="929" y="405.0" fill="#3c3c3c" font-family="Liberation Sans, Arial, sans-serif" font-size="11.4">19,500</text>
<line x1="923" y1="350.5" x2="926.2" y2="350.5" stroke="#666" stroke-width="1"/>
<text x="929" y="353.4" fill="#3c3c3c" font-family="Liberation Sans, Arial, sans-serif" font-size="11.4">20,000</text>
<line x1="923" y1="298.9" x2="926.2" y2="298.9" stroke="#666" stroke-width="1"/>
<text x="929" y="301.8" fill="#3c3c3c" font-family="Liberation Sans, Arial, sans-serif" font-size="11.4">20,500</text>
<line x1="923" y1="247.3" x2="926.2" y2="247.3" stroke="#666" stroke-width="1"/>
<text x="929" y="250.2" fill="#3c3c3c" font-family="Liberation Sans, Arial, sans-serif" font-size="11.4">21,000</text>
<line x1="923" y1="195.7" x2="926.2" y2="195.7" stroke="#666" stroke-width="1"/>
<text x="929" y="198.6" fill="#3c3c3c" font-family="Liberation Sans, Arial, sans-serif" font-size="11.4">21,500</text>
<line x1="923" y1="144.1" x2="926.2" y2="144.1" stroke="#666" stroke-width="1"/>
<text x="929" y="147.0" fill="#3c3c3c" font-family="Liberation Sans, Arial, sans-serif" font-size="11.4">22,000</text>
<line x1="923" y1="92.5" x2="926.2" y2="92.5" stroke="#666" stroke-width="1"/>
<text x="929" y="95.4" fill="#3c3c3c" font-family="Liberation Sans, Arial, sans-serif" font-size="11.4">22,500</text>
<line x1="923" y1="661.0" x2="926.2" y2="661.0" stroke="#666" stroke-width="1"/>
<text x="929" y="663.9" fill="#3c3c3c" font-family="Liberation Sans, Arial, sans-serif" font-size="11.4">40.0</text>
<line x1="923" y1="637.8" x2="926.2" y2="637.8" stroke="#666" stroke-width="1"/>
<text x="929" y="640.6" fill="#3c3c3c" font-family="Liberation Sans, Arial, sans-serif" font-size="11.4">50.0</text>
<line x1="923" y1="614.5" x2="926.2" y2="614.5" stroke="#666" stroke-width="1"/>
<text x="929" y="617.4" fill="#3c3c3c" font-family="Liberation Sans, Arial, sans-serif" font-size="11.4">60.0</text>
<line x1="923" y1="591.2" x2="926.2" y2="591.2" stroke="#666" stroke-width="1"/>
<text x="929" y="594.1" fill="#3c3c3c" font-family="Liberation Sans, Arial, sans-serif" font-size="11.4">70.0</text>
<line x1="923" y1="568.0" x2="926.2" y2="568.0" stroke="#666" stroke-width="1"/>
<text x="929" y="570.9" fill="#3c3c3c" font-family="Liberation Sans, Arial, sans-serif" font-size="11.4">80.0</text>
<path d="M913.7,146.1 L922.5,137.5 H965.9000000000001 Q967.9000000000001,137.5 967.9000000000001,139.5 V152.7 Q967.9000000000001,154.7 965.9000000000001,154.7 H922.5 Z" fill="#ffd700"/><text x="928.9" y="150.2" fill="#000" font-family="Liberation Sans, Arial, sans-serif" font-size="11.4">21,974</text>
<path d="M913.7,169.7 L922.5,161.1 H982.2 Q984.2,161.1 984.2,163.1 V176.29999999999998 Q984.2,178.29999999999998 982.2,178.29999999999998 H922.5 Z" fill="#5d5aa6"/><text x="928.9" y="173.8" fill="#fff" font-family="Liberation Sans, Arial, sans-serif" font-size="11.4">21,740.40</text>
<path d="M913.7,205.4 L922.5,196.8 H965.9000000000001 Q967.9000000000001,196.8 967.9000000000001,198.8 V212.0 Q967.9000000000001,214.0 965.9000000000001,214.0 H922.5 Z" fill="#00f5c8"/><text x="928.9" y="209.5" fill="#000" font-family="Liberation Sans, Arial, sans-serif" font-size="11.4">21,399</text>
<path d="M913.7,265.2 L922.5,256.59999999999997 H965.9000000000001 Q967.9000000000001,256.59999999999997 967.9000000000001,258.59999999999997 V271.8 Q967.9000000000001,273.8 965.9000000000001,273.8 H922.5 Z" fill="#ffd700"/><text x="928.9" y="269.3" fill="#000" font-family="Liberation Sans, Arial, sans-serif" font-size="11.4">20,825</text>
<path d="M913.7,601 L922.5,592.4 H952.5 Q954.5,592.4 954.5,594.4 V607.6 Q954.5,609.6 952.5,609.6 H922.5 Z" fill="#000"/><text x="928.9" y="605.1" fill="#fff" font-family="Liberation Sans, Arial, sans-serif" font-size="11.4">66.1</text>
<line x1="150.5" y1="669" x2="150.5" y2="675" stroke="#555" stroke-width="1"/>
<text x="150.5" y="686.7" text-anchor="middle" fill="#4a4a4a" font-family="Liberation Sans, Arial, sans-serif" font-size="12.1">Nov</text>
<line x1="345.5" y1="669" x2="345.5" y2="675" stroke="#555" stroke-width="1"/>
<text x="345.5" y="686.7" text-anchor="middle" fill="#4a4a4a" font-family="Liberation Sans, Arial, sans-serif" font-size="12.1">Dec</text>
<line x1="766.5" y1="669" x2="766.5" y2="675" stroke="#555" stroke-width="1"/>
<text x="766.5" y="686.7" text-anchor="middle" fill="#4a4a4a" font-family="Liberation Sans, Arial, sans-serif" font-size="12.1">Feb</text>
<line x1="555.5" y1="669" x2="555.5" y2="675.5" stroke="#555" stroke-width="1"/>
<line x1="555.5" y1="676" x2="555.5" y2="689" stroke="#777" stroke-width="1" stroke-dasharray="1.2,2.8"/>
<text x="555.5" y="702" text-anchor="middle" fill="#4a4a4a" font-family="Liberation Sans, Arial, sans-serif" font-size="12.1">2025</text>
<rect x="21.0" y="709.2" width="18.4" height="12.6" rx="2.2" fill="none" stroke="#b4b4b4" stroke-width="1.5"/><line x1="21.2" y1="711.2" x2="39.2" y2="711.2" stroke="#b4b4b4" stroke-width="1.2"/><line x1="26.7" y1="707.8" x2="26.7" y2="710.4" stroke="#b4b4b4" stroke-width="1.2"/><line x1="33.7" y1="707.8" x2="33.7" y2="710.4" stroke="#b4b4b4" stroke-width="1.2"/><text x="30.2" y="720.2" text-anchor="middle" fill="#bcbcbc" font-family="Liberation Sans, Arial, sans-serif" font-size="10.4">6</text>
<rect x="113.8" y="709.2" width="18.4" height="12.6" rx="2.2" fill="none" stroke="#b4b4b4" stroke-width="1.5"/><line x1="114" y1="711.2" x2="132" y2="711.2" stroke="#b4b4b4" stroke-width="1.2"/><line x1="119.5" y1="707.8" x2="119.5" y2="710.4" stroke="#b4b4b4" stroke-width="1.2"/><line x1="126.5" y1="707.8" x2="126.5" y2="710.4" stroke="#b4b4b4" stroke-width="1.2"/><text x="123" y="720.2" text-anchor="middle" fill="#bcbcbc" font-family="Liberation Sans, Arial, sans-serif" font-size="10.4">4</text>
<rect x="161.3" y="709.2" width="18.4" height="12.6" rx="2.2" fill="none" stroke="#b4b4b4" stroke-width="1.5"/><line x1="161.5" y1="711.2" x2="179.5" y2="711.2" stroke="#b4b4b4" stroke-width="1.2"/><line x1="167.0" y1="707.8" x2="167.0" y2="710.4" stroke="#b4b4b4" stroke-width="1.2"/><line x1="174.0" y1="707.8" x2="174.0" y2="710.4" stroke="#b4b4b4" stroke-width="1.2"/><text x="170.5" y="720.2" text-anchor="middle" fill="#bcbcbc" font-family="Liberation Sans, Arial, sans-serif" font-size="10.4">5</text>
<rect x="207.60000000000002" y="709.2" width="18.4" height="12.6" rx="2.2" fill="none" stroke="#b4b4b4" stroke-width="1.5"/><line x1="207.8" y1="711.2" x2="225.8" y2="711.2" stroke="#b4b4b4" stroke-width="1.2"/><line x1="213.3" y1="707.8" x2="213.3" y2="710.4" stroke="#b4b4b4" stroke-width="1.2"/><line x1="220.3" y1="707.8" x2="220.3" y2="710.4" stroke="#b4b4b4" stroke-width="1.2"/><text x="216.8" y="720.2" text-anchor="middle" fill="#bcbcbc" font-family="Liberation Sans, Arial, sans-serif" font-size="10.4">8</text>
<rect x="254.10000000000002" y="709.2" width="18.4" height="12.6" rx="2.2" fill="none" stroke="#b4b4b4" stroke-width="1.5"/><line x1="254.3" y1="711.2" x2="272.3" y2="711.2" stroke="#b4b4b4" stroke-width="1.2"/><line x1="259.8" y1="707.8" x2="259.8" y2="710.4" stroke="#b4b4b4" stroke-width="1.2"/><line x1="266.8" y1="707.8" x2="266.8" y2="710.4" stroke="#b4b4b4" stroke-width="1.2"/><text x="263.3" y="720.2" text-anchor="middle" fill="#bcbcbc" font-family="Liberation Sans, Arial, sans-serif" font-size="10.4">4</text>
<rect x="347.8" y="709.2" width="18.4" height="12.6" rx="2.2" fill="none" stroke="#b4b4b4" stroke-width="1.5"/><line x1="348" y1="711.2" x2="366" y2="711.2" stroke="#b4b4b4" stroke-width="1.2"/><line x1="353.5" y1="707.8" x2="353.5" y2="710.4" stroke="#b4b4b4" stroke-width="1.2"/><line x1="360.5" y1="707.8" x2="360.5" y2="710.4" stroke="#b4b4b4" stroke-width="1.2"/><text x="357" y="720.2" text-anchor="middle" fill="#bcbcbc" font-family="Liberation Sans, Arial, sans-serif" font-size="10.4">4</text>
<rect x="394.3" y="709.2" width="18.4" height="12.6" rx="2.2" fill="none" stroke="#b4b4b4" stroke-width="1.5"/><line x1="394.5" y1="711.2" x2="412.5" y2="711.2" stroke="#b4b4b4" stroke-width="1.2"/><line x1="400.0" y1="707.8" x2="400.0" y2="710.4" stroke="#b4b4b4" stroke-width="1.2"/><line x1="407.0" y1="707.8" x2="407.0" y2="710.4" stroke="#b4b4b4" stroke-width="1.2"/><text x="403.5" y="720.2" text-anchor="middle" fill="#bcbcbc" font-family="Liberation Sans, Arial, sans-serif" font-size="10.4">4</text>
<rect x="441.0" y="709.2" width="18.4" height="12.6" rx="2.2" fill="none" stroke="#b4b4b4" stroke-width="1.5"/><line x1="441.2" y1="711.2" x2="459.2" y2="711.2" stroke="#b4b4b4" stroke-width="1.2"/><line x1="446.7" y1="707.8" x2="446.7" y2="710.4" stroke="#b4b4b4" stroke-width="1.2"/><line x1="453.7" y1="707.8" x2="453.7" y2="710.4" stroke="#b4b4b4" stroke-width="1.2"/><text x="450.2" y="720.2" text-anchor="middle" fill="#bcbcbc" font-family="Liberation Sans, Arial, sans-serif" font-size="10.4">10</text>
<rect x="487.8" y="709.2" width="18.4" height="12.6" rx="2.2" fill="none" stroke="#b4b4b4" stroke-width="1.5"/><line x1="488" y1="711.2" x2="506" y2="711.2" stroke="#b4b4b4" stroke-width="1.2"/><line x1="493.5" y1="707.8" x2="493.5" y2="710.4" stroke="#b4b4b4" stroke-width="1.2"/><line x1="500.5" y1="707.8" x2="500.5" y2="710.4" stroke="#b4b4b4" stroke-width="1.2"/><text x="497" y="720.2" text-anchor="middle" fill="#bcbcbc" font-family="Liberation Sans, Arial, sans-serif" font-size="10.4">2</text>
<rect x="582.4" y="709.2" width="18.4" height="12.6" rx="2.2" fill="none" stroke="#b4b4b4" stroke-width="1.5"/><line x1="582.6" y1="711.2" x2="600.6" y2="711.2" stroke="#b4b4b4" stroke-width="1.2"/><line x1="588.1" y1="707.8" x2="588.1" y2="710.4" stroke="#b4b4b4" stroke-width="1.2"/><line x1="595.1" y1="707.8" x2="595.1" y2="710.4" stroke="#b4b4b4" stroke-width="1.2"/><text x="591.6" y="720.2" text-anchor="middle" fill="#bcbcbc" font-family="Liberation Sans, Arial, sans-serif" font-size="10.4">3</text>
<rect x="629.0" y="709.2" width="18.4" height="12.6" rx="2.2" fill="none" stroke="#b4b4b4" stroke-width="1.5"/><line x1="629.2" y1="711.2" x2="647.2" y2="711.2" stroke="#b4b4b4" stroke-width="1.2"/><line x1="634.7" y1="707.8" x2="634.7" y2="710.4" stroke="#b4b4b4" stroke-width="1.2"/><line x1="641.7" y1="707.8" x2="641.7" y2="710.4" stroke="#b4b4b4" stroke-width="1.2"/><text x="638.2" y="720.2" text-anchor="middle" fill="#bcbcbc" font-family="Liberation Sans, Arial, sans-serif" font-size="10.4">9</text>
<rect x="722.1999999999999" y="709.2" width="18.4" height="12.6" rx="2.2" fill="none" stroke="#b4b4b4" stroke-width="1.5"/><line x1="722.4" y1="711.2" x2="740.4" y2="711.2" stroke="#b4b4b4" stroke-width="1.2"/><line x1="727.9" y1="707.8" x2="727.9" y2="710.4" stroke="#b4b4b4" stroke-width="1.2"/><line x1="734.9" y1="707.8" x2="734.9" y2="710.4" stroke="#b4b4b4" stroke-width="1.2"/><text x="731.4" y="720.2" text-anchor="middle" fill="#bcbcbc" font-family="Liberation Sans, Arial, sans-serif" font-size="10.4">6</text>
<rect x="768.8" y="709.2" width="18.4" height="12.6" rx="2.2" fill="none" stroke="#b4b4b4" stroke-width="1.5"/><line x1="769" y1="711.2" x2="787" y2="711.2" stroke="#b4b4b4" stroke-width="1.2"/><line x1="774.5" y1="707.8" x2="774.5" y2="710.4" stroke="#b4b4b4" stroke-width="1.2"/><line x1="781.5" y1="707.8" x2="781.5" y2="710.4" stroke="#b4b4b4" stroke-width="1.2"/><text x="778" y="720.2" text-anchor="middle" fill="#bcbcbc" font-family="Liberation Sans, Arial, sans-serif" font-size="10.4">7</text>
<rect x="822.5999999999999" y="709.2" width="18.4" height="12.6" rx="2.2" fill="none" stroke="#b4b4b4" stroke-width="1.5"/><line x1="822.8" y1="711.2" x2="840.8" y2="711.2" stroke="#b4b4b4" stroke-width="1.2"/><line x1="828.3" y1="707.8" x2="828.3" y2="710.4" stroke="#b4b4b4" stroke-width="1.2"/><line x1="835.3" y1="707.8" x2="835.3" y2="710.4" stroke="#b4b4b4" stroke-width="1.2"/><text x="831.8" y="720.2" text-anchor="middle" fill="#bcbcbc" font-family="Liberation Sans, Arial, sans-serif" font-size="10.4">7</text>
<rect x="299.5" y="706.00" width="21.2" height="1.3" fill="#f0a0a8"/><rect x="299.5" y="707.30" width="21.2" height="1.3" fill="#fbe4e6"/><rect x="299.5" y="708.60" width="21.2" height="1.3" fill="#f0a0a8"/><rect x="299.5" y="709.90" width="21.2" height="1.3" fill="#fbe4e6"/><rect x="299.5" y="711.20" width="21.2" height="1.3" fill="#f0a0a8"/><rect x="299.5" y="712.50" width="21.2" height="1.3" fill="#fbe4e6"/><rect x="299.5" y="713.80" width="21.2" height="1.3" fill="#f0a0a8"/><rect x="299.5" y="715.10" width="21.2" height="1.3" fill="#fbe4e6"/><rect x="299.5" y="716.40" width="21.2" height="1.3" fill="#f0a0a8"/><rect x="299.5" y="717.70" width="21.2" height="1.3" fill="#fbe4e6"/><rect x="299.5" y="719.00" width="21.2" height="1.3" fill="#f0a0a8"/><rect x="299.5" y="720.30" width="21.2" height="1.3" fill="#fbe4e6"/><rect x="299.5" y="721.60" width="21.2" height="1.3" fill="#f0a0a8"/><rect x="299.5" y="706" width="9.8" height="8" fill="#9aa6c8"/>
<rect x="533.7" y="706.00" width="21.2" height="1.3" fill="#f0a0a8"/><rect x="533.7" y="707.30" width="21.2" height="1.3" fill="#fbe4e6"/><rect x="533.7" y="708.60" width="21.2" height="1.3" fill="#f0a0a8"/><rect x="533.7" y="709.90" width="21.2" height="1.3" fill="#fbe4e6"/><rect x="533.7" y="711.20" width="21.2" height="1.3" fill="#f0a0a8"/><rect x="533.7" y="712.50" width="21.2" height="1.3" fill="#fbe4e6"/><rect x="533.7" y="713.80" width="21.2" height="1.3" fill="#f0a0a8"/><rect x="533.7" y="715.10" width="21.2" height="1.3" fill="#fbe4e6"/><rect x="533.7" y="716.40" width="21.2" height="1.3" fill="#f0a0a8"/><rect x="533.7" y="717.70" width="21.2" height="1.3" fill="#fbe4e6"/><rect x="533.7" y="719.00" width="21.2" height="1.3" fill="#f0a0a8"/><rect x="533.7" y="720.30" width="21.2" height="1.3" fill="#fbe4e6"/><rect x="533.7" y="721.60" width="21.2" height="1.3" fill="#f0a0a8"/><rect x="533.7" y="706" width="9.8" height="8" fill="#9aa6c8"/>
<rect x="674.3" y="706" width="21.2" height="16.8" fill="#a2a9c8"/><path d="M674.3,706 L695.5,722.8 M695.5,706 L674.3,722.8" stroke="#fff" stroke-width="3.4"/><path d="M674.3,706 L695.5,722.8 M695.5,706 L674.3,722.8" stroke="#e9a0a8" stroke-width="1.2"/><rect x="682.1" y="706" width="5.6" height="16.8" fill="#fff"/><rect x="674.3" y="711.6" width="21.2" height="5.6" fill="#fff"/><rect x="683.3" y="706" width="3.2" height="16.8" fill="#e9a0a8"/><rect x="674.3" y="712.8" width="21.2" height="3.2" fill="#e9a0a8"/>
<rect x="983.6" y="728.4" width="1.4" height="1.6" fill="#111"/>
</svg>
</body></html>
